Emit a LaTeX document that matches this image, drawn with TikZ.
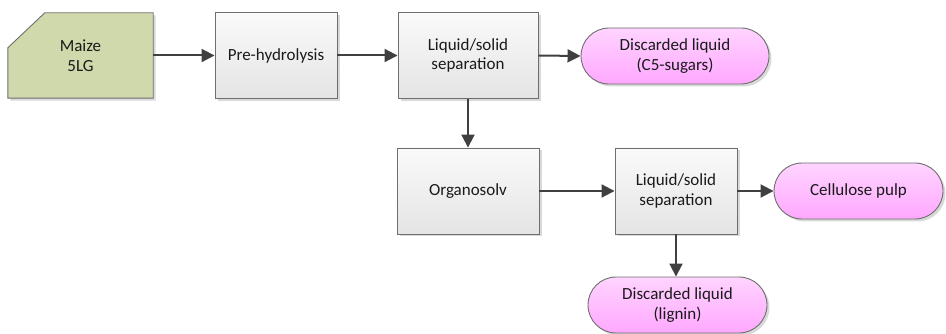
\documentclass[tikz,border=0pt]{standalone}
\usepackage{fontspec}
\setmainfont{Carlito}
\usetikzlibrary{shadows,arrows.meta,shapes.misc}
\definecolor{edge}{HTML}{6E6E6E}
\definecolor{arr}{HTML}{404040}
\definecolor{maize}{HTML}{D0D9AC}
\definecolor{pinktop}{HTML}{FFD4FF}
\definecolor{pinkbot}{HTML}{FFA8FF}
\definecolor{boxtop}{HTML}{FAFAFA}
\definecolor{boxbot}{HTML}{E4E4E4}
\definecolor{txt}{HTML}{1A1A1A}
\tikzset{
  every node/.style={font=\fontsize{17}{19.5}\selectfont, text=txt, align=center},
  procbox/.style={rectangle, draw=edge, line width=0.9pt, top color=boxtop, bottom color=boxbot,
     minimum height=86pt, inner sep=0pt,
     drop shadow={shadow xshift=2.5pt, shadow yshift=-2.5pt, fill=black, opacity=0.15}},
  endpill/.style={rounded rectangle, draw=edge, line width=0.9pt, top color=pinktop, bottom color=pinkbot,
     minimum height=56pt, inner sep=0pt,
     drop shadow={shadow xshift=2.5pt, shadow yshift=-2.5pt, fill=black, opacity=0.15}},
  flow/.style={draw=arr, line width=2pt, -{Triangle[length=13pt,width=13pt]}}
}
\begin{document}
\begin{tikzpicture}[x=1pt,y=-1pt]
\useasboundingbox (0,0) rectangle (946,334);
% Maize (chamfered input)
\node[minimum width=145pt, minimum height=85pt, inner sep=0pt] (maize) at (80.5,55.5) {};
\fill[black, opacity=0.15]
  ([xshift=2.5pt, yshift=-2.5pt]maize.south west) --
  ([xshift=2.5pt, yshift=-37.5pt]maize.north west) --
  ([xshift=39.5pt, yshift=-2.5pt]maize.north west) --
  ([xshift=2.5pt, yshift=-2.5pt]maize.north east) --
  ([xshift=2.5pt, yshift=-2.5pt]maize.south east) -- cycle;
\filldraw[fill=maize, draw=edge, line width=0.9pt]
  (maize.south west) -- ([yshift=-35pt]maize.north west) --
  ([xshift=37pt]maize.north west) -- (maize.north east) --
  (maize.south east) -- cycle;
\node at (maize.center) {Maize\\5LG};
\node[procbox, minimum width=122pt] (pre) at (276,55.5) {Pre-hydrolysis};
\node[procbox, minimum width=140pt] (ls1) at (468,55.5) {Liquid/solid\\separation};
\node[endpill, minimum width=188pt] (c5) at (675,56) {Discarded liquid\\(C5-sugars)};
\node[procbox, minimum width=142pt] (org) at (468,191) {Organosolv};
\node[procbox, minimum width=122pt] (ls2) at (676,191) {Liquid/solid\\separation};
\node[endpill, minimum width=169pt] (cell) at (858.5,191) {Cellulose pulp};
\node[endpill, minimum width=179pt] (lig) at (677.5,305) {Discarded liquid\\(lignin)};
\draw[flow] (maize.east) -- (pre.west);
\draw[flow] (pre.east) -- (ls1.west);
\draw[flow] (ls1.east) -- (c5.west);
\draw[flow] (ls1.south) -- (org.north);
\draw[flow] (org.east) -- (ls2.west);
\draw[flow] (ls2.east) -- (cell.west);
\draw[flow] (ls2.south) -- (ls2.south |- lig.north);
\end{tikzpicture}
\end{document}
